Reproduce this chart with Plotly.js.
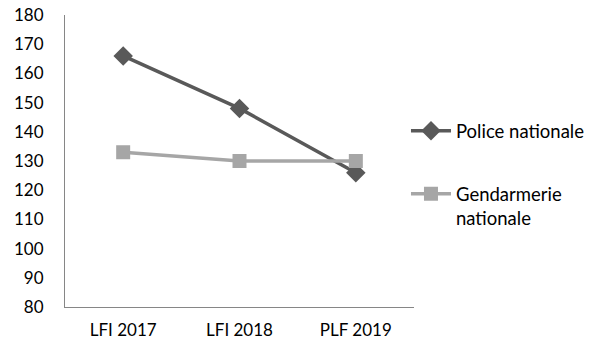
<!DOCTYPE html>
<html><head><meta charset="utf-8">
<script src="https://cdn.plot.ly/plotly-3.0.1.min.js"></script>
<style>body{margin:0;padding:0;background:#fff}#chart{width:612px;height:352px}</style>
</head><body><div id="chart"></div>
<script>
const categories = ["LFI 2017", "LFI 2018", "PLF 2019"];
const police = [166, 148, 126];
const gendarmerie = [133, 130, 130];
const seriesNames = ["Police nationale", "Gendarmerie<br>nationale"];
const yTicks = [80, 90, 100, 110, 120, 130, 140, 150, 160, 170, 180];

const tickFont = {family: "Lato, 'Open Sans', sans-serif", size: 17, color: "#000"};
const legendFont = {family: "Lato, 'Open Sans', sans-serif", size: 18.5, color: "#000"};

const data = [
  {x: categories, y: police, name: seriesNames[0], type: "scatter", mode: "lines+markers",
   legendgroup: "a",
   line: {color: "#595959", width: 3.5},
   marker: {symbol: "diamond", size: 15, color: "#595959"}},
  {x: categories, y: gendarmerie, name: seriesNames[1], type: "scatter", mode: "lines+markers",
   legendgroup: "b",
   line: {color: "#A6A6A6", width: 3.5},
   marker: {symbol: "square", size: 14, color: "#A6A6A6"}}
];

const layout = {
  width: 612, height: 352,
  margin: {l: 65, r: 198, t: 15, b: 45},
  paper_bgcolor: "#fff", plot_bgcolor: "#fff",
  font: tickFont,
  showlegend: true,
  legend: {x: 0.977, xanchor: "left", y: 0.667, yanchor: "top", traceorder: "grouped",
           tracegroupgap: 36, font: legendFont, itemwidth: 40, valign: "top"},
  xaxis: {type: "category", range: [-0.5, 2.5], showline: true, linecolor: "#868686", linewidth: 1,
          showgrid: false, zeroline: false, ticks: "outside", ticklen: 8, tickcolor: "rgba(0,0,0,0)",
          tickfont: tickFont},
  yaxis: {range: [80, 180], tickvals: yTicks, showline: true, linecolor: "#868686", linewidth: 1,
          showgrid: false, zeroline: false, ticks: "outside", ticklen: 17, tickcolor: "rgba(0,0,0,0)",
          tickfont: tickFont}
};

Plotly.newPlot("chart", data, layout, {displayModeBar: false, staticPlot: true});
</script>
</body></html>
